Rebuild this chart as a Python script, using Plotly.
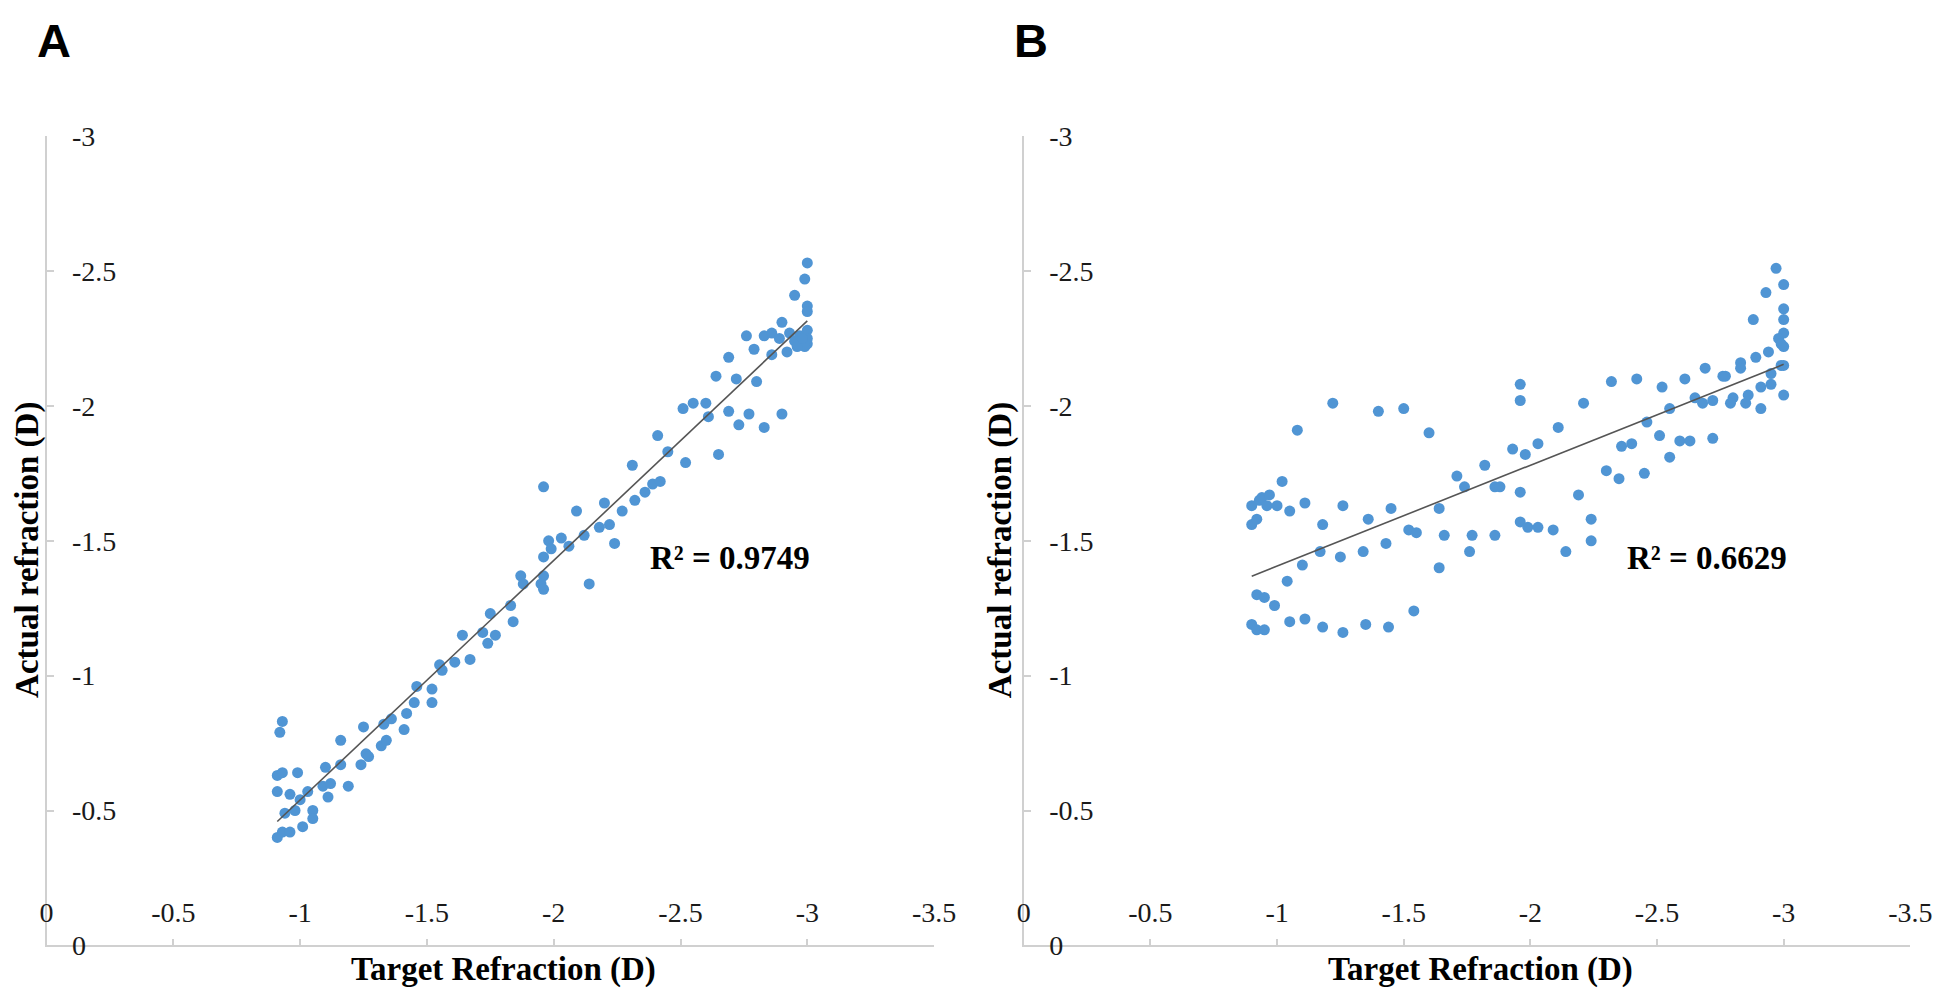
import plotly.graph_objects as go

# ---------------- data ----------------
a_target = [-0.93, -0.92, -0.91, -0.93, -0.99, -0.91, -0.96, -1.00, -1.03, -0.94,
            -0.98, -1.05, -1.05, -0.91, -0.93, -0.96, -1.01, -1.10, -1.16, -1.09,
            -1.12, -1.11, -1.19, -1.16, -1.25, -1.24, -1.26, -1.27, -1.32, -1.34,
            -1.33, -1.36, -1.41, -1.42, -1.45, -1.52, -1.52, -1.46, -1.55, -1.56,
            -1.61, -1.67, -1.64, -1.72, -1.77, -1.74, -1.75, -1.83, -1.84, -1.87,
            -1.88, -1.96, -1.95, -1.96, -2.14, -1.96, -1.98, -1.99, -2.03, -2.06,
            -2.12, -2.18, -2.22, -2.24, -2.09, -2.20, -2.27, -2.32, -2.36, -2.39,
            -1.96, -2.31, -2.42, -2.41, -2.45, -2.52, -2.51, -2.55, -2.60, -2.61,
            -2.65, -2.64, -2.69, -2.72, -2.69, -2.73, -2.77, -2.80, -2.83, -2.76,
            -2.79, -2.83, -2.86, -2.89, -2.86, -2.90, -2.90, -3.00, -2.99, -2.95,
            -3.00, -3.00, -2.93, -2.92, -2.95, -2.97, -3.00, -3.00, -2.99, -3.00,
            -2.96, -2.98]
a_actual = [-0.83, -0.79, -0.63, -0.64, -0.64, -0.57, -0.56, -0.54, -0.57, -0.49,
            -0.50, -0.50, -0.47, -0.40, -0.42, -0.42, -0.44, -0.66, -0.67, -0.59,
            -0.60, -0.55, -0.59, -0.76, -0.81, -0.67, -0.71, -0.70, -0.74, -0.76,
            -0.82, -0.84, -0.80, -0.86, -0.90, -0.90, -0.95, -0.96, -1.04, -1.02,
            -1.05, -1.06, -1.15, -1.16, -1.15, -1.12, -1.23, -1.26, -1.20, -1.37,
            -1.34, -1.37, -1.34, -1.32, -1.34, -1.44, -1.50, -1.47, -1.51, -1.48,
            -1.52, -1.55, -1.56, -1.49, -1.61, -1.64, -1.61, -1.65, -1.68, -1.71,
            -1.70, -1.78, -1.72, -1.89, -1.83, -1.79, -1.99, -2.01, -2.01, -1.96,
            -1.82, -2.11, -2.18, -2.10, -1.98, -1.93, -1.97, -2.09, -1.92, -2.26,
            -2.21, -2.26, -2.27, -2.25, -2.19, -2.31, -1.97, -2.53, -2.47, -2.41,
            -2.37, -2.35, -2.27, -2.20, -2.24, -2.26, -2.28, -2.23, -2.22, -2.25,
            -2.22, -2.25]

b_target = [-1.22, -1.08, -1.02, -0.90, -0.93, -0.94, -0.97, -0.96, -1.00, -1.05,
            -1.11, -1.26, -0.90, -0.92, -1.18, -1.17, -1.25, -1.10, -1.40, -1.50,
            -1.60, -1.96, -1.96, -2.21, -2.11, -2.03, -1.93, -1.98, -1.82, -1.71,
            -1.74, -1.86, -1.88, -1.96, -2.19, -1.45, -1.64, -1.36, -1.52, -1.55,
            -1.66, -1.77, -1.86, -1.96, -1.99, -2.03, -2.09, -2.24, -2.24, -1.34,
            -1.43, -1.76, -1.64, -2.14, -1.11, -1.18, -1.26, -1.35, -1.44, -1.54,
            -1.04, -0.92, -0.95, -0.99, -0.90, -0.92, -0.95, -1.05,
            -2.97, -3.00, -2.93, -3.00, -3.00, -2.88, -3.00, -2.98, -2.99, -3.00,
            -2.94, -2.89, -2.83, -2.83, -2.69, -2.76, -2.77, -2.99, -3.00, -2.95,
            -2.95, -2.91, -3.00, -2.91, -2.86, -2.85, -2.80, -2.79, -2.72, -2.68,
            -2.65, -2.61, -2.52, -2.42, -2.32, -2.55, -2.46, -2.51, -2.59, -2.63,
            -2.72, -2.36, -2.40, -2.55, -2.30, -2.35, -2.45]
b_actual = [-2.01, -1.91, -1.72, -1.63, -1.65, -1.66, -1.67, -1.63, -1.63, -1.61,
            -1.64, -1.63, -1.56, -1.58, -1.56, -1.46, -1.44, -1.41, -1.98, -1.99,
            -1.90, -2.08, -2.02, -2.01, -1.92, -1.86, -1.84, -1.82, -1.78, -1.74,
            -1.70, -1.70, -1.70, -1.68, -1.67, -1.62, -1.62, -1.58, -1.54, -1.53,
            -1.52, -1.52, -1.52, -1.57, -1.55, -1.55, -1.54, -1.58, -1.50, -1.46,
            -1.49, -1.46, -1.40, -1.46, -1.21, -1.18, -1.16, -1.19, -1.18, -1.24,
            -1.35, -1.30, -1.29, -1.26, -1.19, -1.17, -1.17, -1.20,
            -2.51, -2.45, -2.42, -2.36, -2.32, -2.32, -2.27, -2.25, -2.23, -2.22,
            -2.20, -2.18, -2.16, -2.14, -2.14, -2.11, -2.11, -2.15, -2.15, -2.12,
            -2.08, -2.07, -2.04, -1.99, -2.04, -2.01, -2.03, -2.01, -2.02, -2.01,
            -2.03, -2.10, -2.07, -2.10, -2.09, -1.99, -1.94, -1.89, -1.87, -1.87,
            -1.88, -1.85, -1.86, -1.81, -1.76, -1.73, -1.75]

# linear trend lines (slope, intercept) and R² labels
a_slope, a_intercept = 0.888, 0.349
b_slope, b_intercept = 0.374, -1.032
a_r2_label = "R² = 0.9749"
b_r2_label = "R² = 0.6629"

x_tick_values = [0, -0.5, -1, -1.5, -2, -2.5, -3, -3.5]
x_tick_labels = ["0", "-0.5", "-1", "-1.5", "-2", "-2.5", "-3", "-3.5"]
y_tick_values = [0, -0.5, -1, -1.5, -2, -2.5, -3]
y_tick_labels = ["0", "-0.5", "-1", "-1.5", "-2", "-2.5", "-3"]

x_title = "Target Refraction (D)"
y_title = "Actual refraction (D)"
panel_labels = ["A", "B"]

# ---------------- figure ----------------
W, H = 1946, 996
POINT_COLOR = "#5095d4"
AXIS_COLOR = "#d0d0d0"
TEXT_COLOR = "#1a1a1a"
SERIF = "Liberation Serif"

fig = go.Figure()

panels = [
    dict(xs=a_target, ys=a_actual, slope=a_slope, icpt=a_intercept, r2=a_r2_label,
         xaxis="x", yaxis="y", dom=[32 / W, 933 / W], left=32, ytitle_off=-20),
    dict(xs=b_target, ys=b_actual, slope=b_slope, icpt=b_intercept, r2=b_r2_label,
         xaxis="x2", yaxis="y2", dom=[1024 / W, 1924 / W], left=1024, ytitle_off=-24),
]

ydom = [1 - 952 / H, 1 - 116.8 / H]

annotations = []
for i, p in enumerate(panels):
    fig.add_trace(go.Scatter(
        x=p["xs"], y=p["ys"], mode="markers", xaxis=p["xaxis"], yaxis=p["yaxis"],
        marker=dict(size=11, color=POINT_COLOR, line=dict(width=0)),
        showlegend=False, hoverinfo="x+y"))
    x0 = max(p["xs"])
    x1 = min(p["xs"])
    fig.add_trace(go.Scatter(
        x=[x0, x1], y=[p["slope"] * x0 + p["icpt"], p["slope"] * x1 + p["icpt"]],
        mode="lines", xaxis=p["xaxis"], yaxis=p["yaxis"],
        line=dict(color="#555555", width=1.6), showlegend=False, hoverinfo="skip"))

    sfx = "" if i == 0 else str(i + 1)
    axis_common = dict(
        showgrid=False, zeroline=False, showline=True, linecolor=AXIS_COLOR, linewidth=2,
        ticks="inside", tickwidth=1.5, tickcolor=AXIS_COLOR,
        ticklabelposition="inside", ticklabeloverflow="allow",
        tickfont=dict(family=SERIF, size=28, color=TEXT_COLOR), fixedrange=True,
    )
    fig.layout["xaxis" + sfx] = dict(
        axis_common, domain=p["dom"], range=[0, -3.5], anchor="y" + sfx,
        tickmode="array", tickvals=x_tick_values, ticktext=x_tick_labels,
        ticklen=6, ticklabelstandoff=14)
    fig.layout["yaxis" + sfx] = dict(
        axis_common, domain=ydom, range=[0, -3], anchor="x" + sfx,
        tickmode="array", tickvals=y_tick_values, ticktext=y_tick_labels,
        ticklen=7, ticklabelstandoff=21)

    left = p["left"]
    annotations.append(dict(
        text="<b>%s</b>" % p["r2"], xref="x" + sfx, yref="y" + sfx,
        x=-2.373, y=-1.435, xanchor="left", yanchor="middle", showarrow=False,
        font=dict(family=SERIF, size=33, color="#000000")))
    annotations.append(dict(
        text="<b>%s</b>" % x_title, xref="paper", yref="paper",
        x=(left + 464) / W, y=1 - 977 / H, xanchor="center", yanchor="middle",
        showarrow=False, font=dict(family=SERIF, size=33, color="#000000")))
    annotations.append(dict(
        text="<b>%s</b>" % y_title, xref="paper", yref="paper", textangle=-90,
        x=(left + p["ytitle_off"]) / W, y=1 - 544 / H, xanchor="center", yanchor="middle",
        showarrow=False, font=dict(family=SERIF, size=33, color="#000000")))
    annotations.append(dict(
        text="<b>%s</b>" % panel_labels[i], xref="paper", yref="paper",
        x=(left - 12) / W, y=1 - 18 / H,
        xanchor="left", yanchor="middle", showarrow=False,
        font=dict(family="Liberation Sans", size=47, color="#000000")))

fig.update_layout(
    width=W, height=H, margin=dict(l=0, r=0, t=0, b=0),
    paper_bgcolor="white", plot_bgcolor="white",
    annotations=annotations, showlegend=False,
)

fig.write_html("out.html", config={"displayModeBar": False})
